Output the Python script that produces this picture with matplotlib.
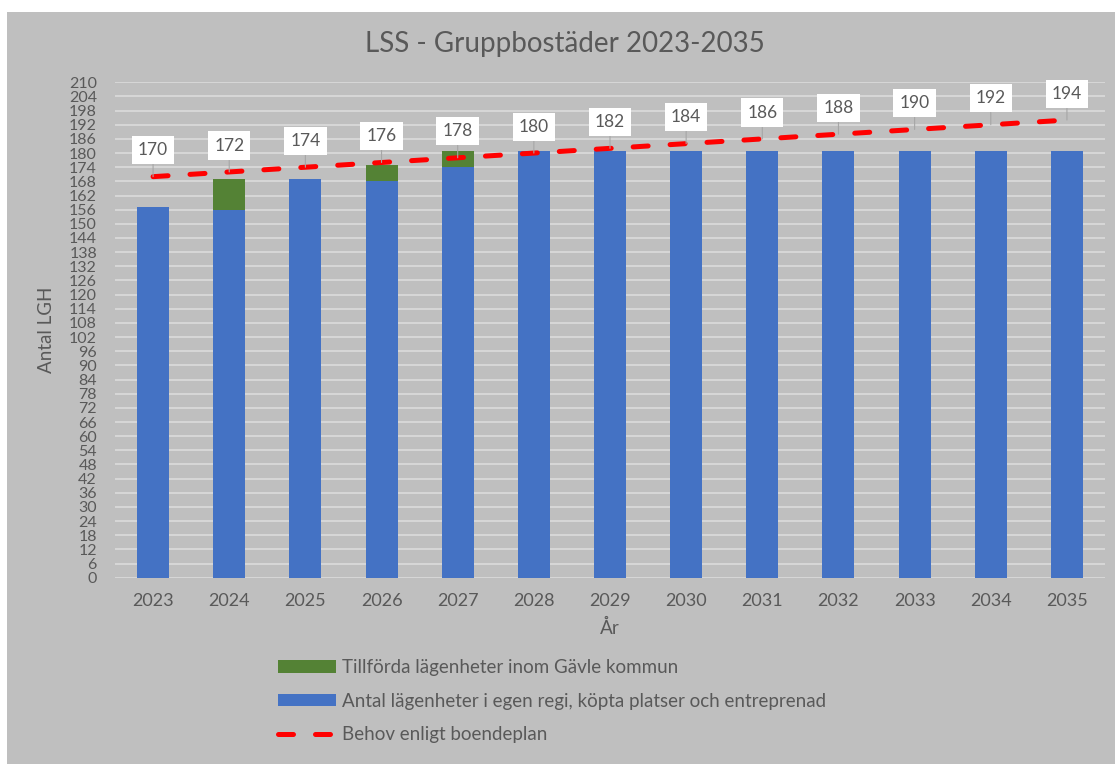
import matplotlib.pyplot as plt
from matplotlib.patches import Rectangle

years = ["2023", "2024", "2025", "2026", "2027", "2028", "2029",
         "2030", "2031", "2032", "2033", "2034", "2035"]
egen = [157, 156, 169, 168, 174, 181, 181, 181, 181, 181, 181, 181, 181]
tillforda = [0, 13, 0, 7, 7, 0, 0, 0, 0, 0, 0, 0, 0]
behov = [170, 172, 174, 176, 178, 180, 182, 184, 186, 188, 190, 192, 194]

grey_txt = "#595959"
plt.rcParams['font.family'] = ['Lato', 'DejaVu Sans']

fig = plt.figure(figsize=(11.15, 7.64), dpi=100)
fig.patch.set_facecolor("white")
# grey chart area (white margin at top/left like the screenshot)
fig.patches.append(Rectangle((7 / 1115, 0), 1, 1 - 12 / 764, transform=fig.transFigure,
                             facecolor="#bfbfbf", edgecolor="none", zorder=-10))

ax = fig.add_axes([115 / 1115, 1 - 577.7 / 764, 990 / 1115, (577.7 - 82.3) / 764])
ax.set_facecolor("none")

x = list(range(len(years)))
b_egen = ax.bar(x, egen, width=0.42, color="#4472C4", zorder=2,
                label="Antal lägenheter i egen regi, köpta platser och entreprenad")
b_till = ax.bar(x, tillforda, width=0.42, bottom=egen, color="#548235", zorder=2,
                label="Tillförda lägenheter inom Gävle kommun")
line, = ax.plot(x, behov, color="#ff0000", lw=3.6, zorder=3,
                dash_capstyle="round", label="Behov enligt boendeplan")
line.set_dashes((3.0, 4.4))

for xi, v in zip(x, behov):
    ax.annotate(str(v), (xi, v), xytext=(0, 19), textcoords="offset points",
                ha="center", va="center", fontsize=12.5, color=grey_txt, zorder=4,
                bbox=dict(boxstyle="square,pad=0.35", fc="white", ec="none"),
                arrowprops=dict(arrowstyle="-", color="#a6a6a6", lw=0.8,
                                shrinkA=0, shrinkB=0))

ax.set_xlim(-0.5, len(years) - 0.5)
ax.set_ylim(0, 210)
ax.set_yticks(range(0, 211, 6))
ax.set_xticks(x)
ax.set_xticklabels(years)
ax.grid(axis="y", color="#d9d9d9", lw=1.3, zorder=1)
ax.set_axisbelow(True)
for s in ax.spines.values():
    s.set_visible(False)
ax.tick_params(axis="y", length=0, pad=13, labelsize=11.5, labelcolor=grey_txt)
ax.tick_params(axis="x", length=0, pad=11, labelsize=13, labelcolor=grey_txt)

ax.set_ylabel("Antal LGH", fontsize=13.5, color=grey_txt)
ax.yaxis.set_label_coords(-60 / 990, 0.5)
ax.set_xlabel("År", fontsize=13.5, color=grey_txt, labelpad=7)

fig.text(565 / 1115, 1 - 44 / 764, "LSS - Gruppbostäder 2023-2035",
         ha="center", va="center", fontsize=20, color=grey_txt)

leg = fig.legend([b_till, b_egen, line],
                 [b_till.get_label(), b_egen.get_label(), line.get_label()],
                 loc="upper left", bbox_to_anchor=(278 / 1115, 1 - 659 / 764),
                 frameon=False, fontsize=13.5, handlelength=3.1, handleheight=0.64,
                 handletextpad=0.3, labelspacing=0.88, borderpad=0, borderaxespad=0)
for t in leg.get_texts():
    t.set_color(grey_txt)

fig.savefig("out.png", dpi=100)
